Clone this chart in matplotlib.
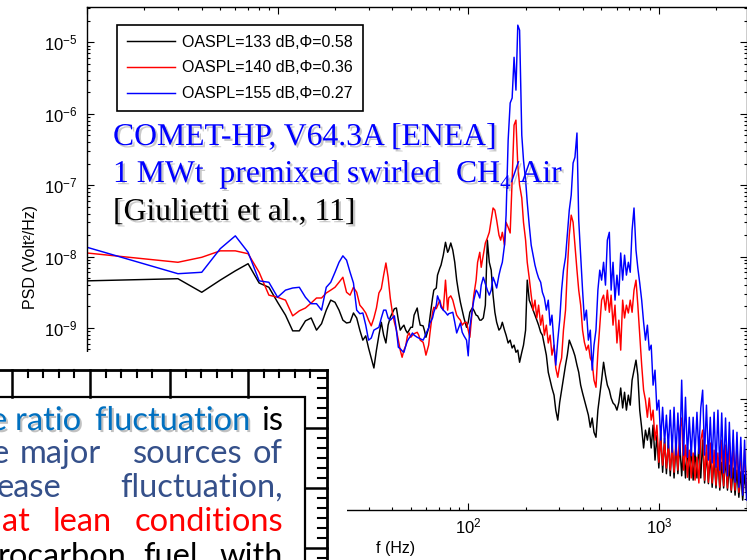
import numpy as np
import matplotlib
matplotlib.use('Agg')
import matplotlib.pyplot as plt
import matplotlib.patheffects as pe
from matplotlib.patches import Rectangle
from matplotlib.ticker import LogLocator, NullFormatter, FuncFormatter

plt.rcParams['font.family'] = ['Liberation Sans', 'DejaVu Sans']
plt.rcParams['mathtext.fontset'] = 'custom'
plt.rcParams['mathtext.rm'] = 'Liberation Sans'
plt.rcParams['mathtext.it'] = 'Liberation Sans:italic'
plt.rcParams['mathtext.bf'] = 'Liberation Sans:bold'

# ---------------- data (frequency in Hz, PSD given as log10 of Volt^2/Hz) ----------------
freq_hz = [1, 3, 4, 5, 6, 7, 8, 9, 10, 11, 12, 13, 14, 15, 16, 17, 18, 19, 20, 21,
           22, 23, 24, 25, 26, 27, 28, 29, 30, 31, 32, 33, 34, 35, 36, 37, 38, 39,
           40, 41, 42, 43, 44, 45, 46, 47, 48, 49,
           50, 51, 52, 54, 55, 56, 58, 59, 60, 62,
           63, 65, 66, 68, 69, 71, 72, 74, 76, 78,
           79, 81, 83, 85, 87, 89, 91, 93, 95, 98,
           100, 102, 105, 107, 110, 112, 115, 117, 120, 123,
           126, 129, 132, 135, 138, 141, 145, 148, 151, 155,
           158, 162, 166, 170, 174, 178, 182, 186, 191, 195,
           200, 204, 209, 214, 219, 224, 229, 234, 240, 245,
           251, 257, 263, 269, 275, 282, 288, 295, 302, 309,
           316, 324, 331, 339, 347, 355, 363, 372, 380, 389,
           398, 407, 417, 427, 437, 447, 457, 468, 479, 490,
           501, 513, 525, 537, 550, 562, 575, 589, 603, 617,
           631, 646, 661, 676, 692, 708, 724, 741, 759, 776,
           794, 813, 832, 851, 871, 891, 912, 933, 955, 977,
           1000, 1023, 1047, 1072, 1096, 1122, 1148, 1175, 1202, 1230,
           1259, 1288, 1318, 1349, 1380, 1413, 1445, 1479, 1514, 1549,
           1585, 1622, 1660, 1698, 1738, 1778, 1820, 1862, 1905, 1950,
           1995, 2042, 2089, 2138, 2188, 2239, 2291, 2344, 2399, 2455,
           2512, 2570, 2630, 2692, 2754, 2818, 2884, 2951]

log_psd_black = [
    -8.34, -8.31, -8.50, -8.33, -8.20, -8.10, -8.37, -8.43, -8.64, -8.82,
    -9.04, -9.04, -8.90, -8.86, -9.03, -8.94, -8.75, -8.61, -8.64, -8.75,
    -8.89, -8.93, -8.92, -8.79, -8.86, -9.03, -9.17, -9.11, -9.28, -9.42,
    -9.56, -9.31, -9.10, -8.92, -9.10, -9.21, -8.96, -8.85,
    -8.79, -8.73, -8.72, -8.89, -9.03, -8.99, -8.96, -9.03, -9.07, -9.03,
    -8.99, -8.99, -8.82, -8.72, -8.86, -8.96, -8.97, -9.04, -9.13, -9.00,
    -8.85, -8.58, -8.47, -8.44, -8.26, -8.16, -8.12, -7.98, -7.80, -7.94,
    -7.91, -7.81, -7.91, -8.08, -8.33, -8.50, -8.64, -8.75, -8.86, -8.99,
    -8.92, -8.78, -8.72, -8.75, -8.82, -8.83, -8.89, -8.89, -8.86, -8.68,
    -7.77, -8.08, -8.19, -8.54, -8.78, -8.92, -9.03, -9.00, -8.92, -9.03,
    -9.10, -9.21, -9.17, -9.28, -9.24, -9.34, -9.31, -9.48, -9.34, -9.24,
    -9.03, -8.33, -8.61, -8.68, -8.75, -8.82, -8.89, -8.96, -9.06, -9.10,
    -9.24, -9.38, -9.62, -9.73, -9.84, -9.94, -10.15, -10.29, -10.04, -9.87,
    -9.70, -9.52, -9.38, -9.17, -9.24, -9.31, -9.39, -9.52, -9.62, -9.80,
    -9.91, -10.01, -10.12, -10.22, -10.39, -10.26, -10.46, -10.53, -10.15, -9.94,
    -9.73, -9.48, -9.66, -9.80, -9.87, -9.98, -10.05, -10.08, -10.15, -10.04,
    -9.84, -10.12, -9.90, -10.15, -9.94, -10.08, -9.73, -9.59, -9.45, -9.66,
    -10.15, -10.40, -10.68, -10.43, -10.57, -10.40, -10.68, -10.36, -10.85, -10.50,
    -10.96, -10.46, -11.02, -10.54, -11.04, -10.57, -11.07, -10.60, -11.10, -10.64,
    -11.04, -10.61, -11.07, -10.65, -11.10, -10.67, -11.13, -10.68, -11.13, -10.71,
    -11.10, -10.64, -11.10, -10.57, -11.17, -10.74, -11.18, -10.78, -11.23, -10.81,
    -11.24, -10.82, -11.27, -10.88, -11.24, -10.81, -11.27, -10.92, -11.30, -10.96,
    -11.34, -10.99, -11.37, -11.02, -11.41, -11.06, -11.31, -11.34]

log_psd_red = [
    -7.95, -8.08, -8.01, -7.92, -7.92, -7.96, -8.22, -8.54, -8.57, -8.61,
    -8.83, -8.76, -8.72, -8.65, -8.58, -8.58, -8.51, -8.47, -8.43, -8.36,
    -8.29, -8.50, -8.54, -8.43, -8.50, -8.68, -8.73, -8.79, -8.89, -8.97,
    -8.86, -8.72, -8.51, -8.45, -8.26, -8.09, -8.29, -8.58,
    -8.78, -8.92, -9.03, -9.17, -9.31, -9.41, -9.31, -9.25, -9.11, -9.07,
    -9.13, -9.10, -9.08, -9.06, -9.10, -9.17, -9.20, -9.28, -9.38, -9.24,
    -9.07, -8.78, -8.71, -8.73, -8.69, -8.61, -8.68, -8.75, -8.33, -8.75,
    -8.58, -8.55, -8.61, -8.72, -8.82, -8.86, -8.89, -8.96, -8.93, -8.92,
    -9.03, -9.13, -8.75, -8.54, -8.33, -8.08, -7.94, -8.15, -7.98, -7.81,
    -7.74, -7.66, -7.49, -7.32, -7.35, -7.49, -7.70, -7.77, -7.66, -7.84,
    -7.52, -7.59, -7.67, -6.93, -6.16, -6.09, -6.72, -7.00, -7.18, -7.52,
    -7.77, -8.08, -8.30, -8.54, -8.75, -8.61, -8.86, -8.68, -8.96, -8.82,
    -9.10, -8.96, -9.21, -9.10, -9.38, -9.24, -9.56, -9.69, -9.52, -9.42,
    -9.03, -8.75, -8.19, -7.70, -7.42, -7.52, -7.84, -8.19, -8.47, -8.68,
    -9.03, -9.20, -9.31, -9.24, -9.42, -9.48, -9.73, -9.83, -9.34, -8.96,
    -8.61, -8.54, -8.75, -8.47, -8.78, -8.54, -8.96, -8.68, -9.21, -8.89,
    -9.31, -8.61, -8.86, -8.68, -8.79, -8.61, -8.78, -8.47, -8.33, -8.68,
    -9.10, -9.52, -9.87, -10.01, -10.25, -9.98, -10.29, -10.15, -10.57, -10.36,
    -10.88, -10.54, -10.92, -10.60, -10.96, -10.64, -10.99, -10.67, -11.02, -10.57,
    -10.99, -10.43, -10.26, -10.99, -10.64, -11.09, -10.71, -11.10, -10.75, -11.13,
    -10.81, -11.17, -10.57, -10.43, -11.13, -10.64, -11.16, -10.61, -11.17, -10.71,
    -11.20, -10.75, -11.23, -10.57, -11.21, -10.64, -11.24, -10.60, -11.27, -10.57,
    -11.27, -10.64, -11.30, -10.67, -11.32, -10.71, -11.27, -11.27]

log_psd_blue = [
    -7.87, -8.24, -8.22, -7.89, -7.71, -7.94, -8.34, -8.36, -8.57, -8.47,
    -8.44, -8.43, -8.57, -8.66, -8.66, -8.75, -8.43, -8.36, -8.22, -8.08,
    -7.99, -8.05, -8.22, -8.37, -8.75, -8.80, -8.79, -8.96, -9.17, -9.14,
    -9.03, -9.01, -8.99, -8.86, -8.75, -8.75, -8.86, -8.89,
    -8.86, -8.83, -9.03, -9.27, -9.29, -9.32, -9.34, -9.25, -9.18, -9.14,
    -9.11, -9.07, -9.10, -9.13, -9.14, -9.15, -9.17, -9.13, -9.08, -9.00,
    -8.93, -8.86, -8.78, -8.68, -8.55, -8.64, -8.71, -8.75, -8.78, -8.82,
    -8.80, -8.79, -8.78, -8.92, -9.07, -9.00, -8.93, -9.06, -9.11, -9.17,
    -9.39, -8.99, -8.75, -8.61, -8.47, -8.50, -8.58, -8.40, -8.29, -8.38,
    -8.47, -8.54, -8.47, -8.29, -8.36, -8.44, -8.26, -8.16, -8.08, -7.84,
    -7.42, -6.37, -5.85, -5.78, -5.21, -5.67, -4.76, -4.83, -6.30, -6.65,
    -6.93, -7.24, -7.56, -7.84, -7.98, -8.12, -8.22, -8.30, -8.36, -8.50,
    -8.58, -8.75, -8.61, -8.96, -8.82, -9.24, -9.52, -9.17, -8.89, -8.47,
    -8.19, -8.01, -7.70, -7.35, -7.14, -6.69, -6.61, -6.27, -7.49, -7.98,
    -8.47, -8.89, -8.75, -9.17, -9.03, -9.59, -9.24, -9.03, -8.47, -8.19,
    -8.33, -8.08, -8.40, -7.77, -7.66, -8.47, -8.08, -8.61, -8.26, -8.54,
    -7.95, -8.33, -7.98, -8.26, -8.08, -8.22, -7.63, -7.32, -7.91, -8.16,
    -8.37, -8.61, -8.92, -9.17, -8.96, -9.31, -9.24, -9.80, -9.59, -10.15,
    -10.01, -10.57, -10.11, -10.61, -10.22, -10.68, -10.15, -10.74, -10.11, -10.78,
    -10.19, -10.78, -9.73, -10.78, -9.97, -10.81, -10.25, -10.79, -10.25, -10.78,
    -10.18, -10.76, -10.12, -9.87, -10.78, -10.08, -10.85, -10.25, -10.89, -10.18,
    -10.95, -10.15, -10.99, -10.19, -11.03, -10.26, -11.07, -10.32, -11.10, -10.43,
    -11.16, -10.46, -11.23, -10.53, -11.34, -10.57, -11.41, -11.34]

series_labels = ['OASPL=133 dB,\u03a6=0.58', 'OASPL=140 dB,\u03a6=0.36', 'OASPL=155 dB,\u03a6=0.27']
series_colors = ['#000000', '#ff0000', '#0000ff']
series_values = [log_psd_black, log_psd_red, log_psd_blue]

# decades whose labels are visible (the others sit under the slide's text box)
x_label_decades = [2, 3]
y_label_decades = [-9, -8, -7, -6, -5]

# ---------------- figure ----------------
W, H = 747, 560
fig = plt.figure(figsize=(W / 100, H / 100), dpi=100)
ax = fig.add_axes([87 / W, (H - 510) / H, (746.5 - 87) / W, (510 - 6.5) / H])

for vals, lab, col in zip(series_values, series_labels, series_colors):
    ax.plot(freq_hz, 10.0 ** np.array(vals), color=col, lw=1.05, label=lab)

ax.set_xscale('log')
ax.set_yscale('log')
ax.set_xlim(1, 2884)
ax.set_ylim(2.83e-12, 3.17e-5)


def make_fmt(decades):
    def f(v, pos):
        e = int(round(np.log10(v)))
        if e in decades:
            return r'$\mathdefault{10^{%d}}$' % e
        return ''
    return FuncFormatter(f)


ax.xaxis.set_major_formatter(make_fmt(x_label_decades))
ax.yaxis.set_major_formatter(make_fmt(y_label_decades))
for axis in (ax.xaxis, ax.yaxis):
    axis.set_major_locator(LogLocator(base=10, numticks=100))
    axis.set_minor_locator(LogLocator(base=10, subs=np.arange(2, 10), numticks=100))
    axis.set_minor_formatter(NullFormatter())
ax.tick_params(which='both', direction='in', top=True, right=True, width=0.8, colors='black')
ax.tick_params(which='major', length=5, labelsize=12)
ax.tick_params(which='minor', length=2.5)
ax.tick_params(axis='y', pad=7)
ax.tick_params(axis='x', pad=5)
for s in ax.spines.values():
    s.set_linewidth(1.0)

leg = ax.legend(loc='upper left', bbox_to_anchor=((117 - 87) / 659.5, (510 - 25) / 503.5),
                borderaxespad=0, fancybox=False, framealpha=1, edgecolor='black',
                fontsize=11.5, handlelength=3.0, handletextpad=0.5, borderpad=0.6,
                labelspacing=0.68)
leg.get_frame().set_linewidth(1.2)

fig.text(396 / W, 1 - 548 / H, 'f (Hz)', ha='center', va='center', fontsize=11.5)
fig.text(30 / W, 1 - 257 / H, 'PSD (Volt\u00b2/Hz)', ha='center', va='center',
         rotation=90, fontsize=11.5)

# ---------------- overlay (slide annotations) ----------------
ov = fig.add_axes([0, 0, 1, 1], zorder=10)
ov.set_xlim(0, W)
ov.set_ylim(H, 0)
ov.axis('off')
ov.patch.set_alpha(0)

shadow = [pe.SimplePatchShadow(offset=(1.6, -1.6), shadow_rgbFace='#888888', alpha=0.45), pe.Normal()]
serif = ['Liberation Serif', 'DejaVu Serif']
tkw = dict(family=serif, fontsize=22.8, va='baseline', ha='left', path_effects=shadow)
ov.text(113, 145, 'COMET-HP, V64.3A [ENEA]', color='#0000ff', **tkw)
fig.canvas.draw()
r = fig.canvas.get_renderer()
t1 = ov.text(113, 182, '1 MWt  premixed swirled  CH', color='#0000ff', **tkw)
x1 = t1.get_window_extent(r).x1
kw4 = dict(tkw)
kw4['fontsize'] = 15
t2 = ov.text(x1 + 1, 189, '4', color='#0000ff', **kw4)
x2 = t2.get_window_extent(r).x1
ov.text(x2, 182, '/Air', color='#0000ff', **tkw)
ov.text(113, 220, '[Giulietti et al., 11]', color='#000000', **tkw)

# white cover and the frame of the neighbouring slide element
ov.add_patch(Rectangle((-5, 352), 352, 215, fc='white', ec='none'))
ov.plot([-5, 327], [370, 370], color='black', lw=2.0, solid_capstyle='projecting')
ov.plot([327, 327], [370, 565], color='black', lw=2.0, solid_capstyle='projecting')
for xm in [12, 90, 170, 248]:
    ov.plot([xm, xm], [370, 397], color='black', lw=1.8)
for xm0 in [-66, 12, 90, 170, 248]:
    for k in range(1, 5):
        xx = xm0 + k * 15.6
        if 0 <= xx < 327:
            ov.plot([xx, xx], [370, 377], color='black', lw=1.5)
for ym in [428, 488, 548]:
    ov.plot([305, 327], [ym, ym], color='black', lw=1.8)
for ym in np.arange(378, 560, 10):
    if min(abs(ym - 428), abs(ym - 488), abs(ym - 548)) > 3:
        ov.plot([318, 327], [ym, ym], color='black', lw=1.5)
ov.add_patch(Rectangle((-5, 397), 310, 175, fc='white', ec='black', lw=1.6))

body = ['Lato', 'DejaVu Sans']
bkw = dict(family=body, fontsize=23.5, va='baseline')
c_blue = '#0070c0'
c_navy = '#35508a'
sh2 = [pe.SimplePatchShadow(offset=(1.5, -1.5), shadow_rgbFace='#777777', alpha=0.45), pe.Normal()]
ov.text(-10, 430, 'e', color=c_blue, ha='left', path_effects=sh2, **bkw)
ov.text(15, 430, 'ratio', color=c_blue, ha='left', path_effects=sh2, **bkw)
ov.text(95, 430, 'fluctuation', color=c_blue, ha='left', path_effects=sh2, **bkw)
ov.text(283, 430, 'is', color='black', ha='right', **bkw)
ov.text(-8, 463, 'e', color=c_navy, ha='left', **bkw)
ov.text(20, 463, 'major', color=c_navy, ha='left', **bkw)
ov.text(133, 463, 'sources', color=c_navy, ha='left', **bkw)
ov.text(283, 463, 'of', color=c_navy, ha='right', **bkw)
ov.text(-3, 497, 'ease', color=c_navy, ha='left', **bkw)
ov.text(283, 497, 'fluctuation,', color=c_navy, ha='right', **bkw)
ov.text(2, 531, 'at', color='#ff0000', ha='left', **bkw)
ov.text(53, 531, 'lean', color='#ff0000', ha='left', **bkw)
ov.text(283, 531, 'conditions', color='#ff0000', ha='right', **bkw)
ov.text(-2, 566, 'rocarbon', color='black', ha='left', **bkw)
ov.text(143, 566, 'fuel', color='black', ha='left', **bkw)
ov.text(283, 566, 'with', color='black', ha='right', **bkw)

fig.savefig('out.png', dpi=100)
